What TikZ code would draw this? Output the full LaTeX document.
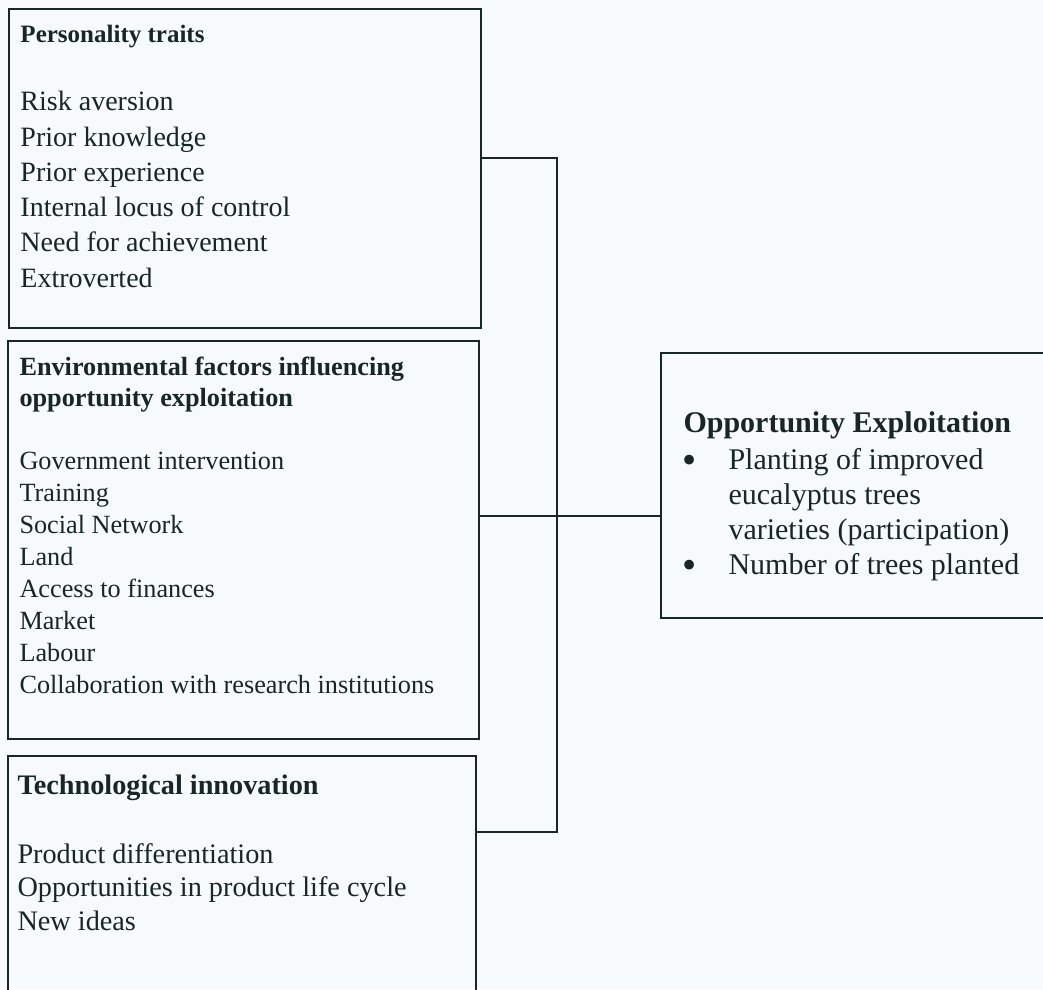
\documentclass[tikz,border=0pt]{standalone}
\usepackage{fontspec}
\setmainfont{Liberation Serif}

\newlength{\px}
\setlength{\px}{0.4pt}
\newlength{\bulletw}
\setlength{\bulletw}{45\px}
\newcommand{\outcomebullet}{\makebox[\bulletw][l]{\hspace*{-0.6pt}\raisebox{-1.6pt}{\scalebox{1.35}{\textbullet}}}}

\definecolor{inkcolor}{rgb}{0.10,0.15,0.15}
\definecolor{papercolor}{rgb}{0.965,0.980,0.985}

\tikzset{
  factorbox/.style={draw=inkcolor, line width=1.8\px, anchor=north west, inner sep=0pt},
  boxtext/.style={anchor=base west, inner sep=0pt, align=left, text=inkcolor},
  link/.style={draw=inkcolor, line width=1.5\px},
}

\begin{document}
\begin{tikzpicture}
\pgftransformxscale{1.000000}
\pgftransformyscale{-1.000000}
\useasboundingbox (0\px,0\px) rectangle (1043\px,989\px);
\clip (0\px,0\px) rectangle (1043\px,989\px);
\fill[papercolor] (0\px,0\px) rectangle (1043\px,989\px);
% factor boxes
\node[factorbox, minimum width=472\px, minimum height=319\px] (traitsbox) at (8\px,8\px) {};
\node[factorbox, minimum width=471\px, minimum height=398\px] (envbox) at (7\px,340\px) {};
\node[factorbox, minimum width=468\px, minimum height=260\px] (techbox) at (7\px,755\px) {};
\node[factorbox, minimum width=400\px, minimum height=265\px] (outcomebox) at (660\px,352\px) {};
% box texts (placed by the baseline of their last line)
\node[boxtext, font=\fontsize{11.2pt}{14.1pt}\selectfont] (traitstext) at (20\px,287\px)
  {{\bfseries\fontsize{10pt}{14.1pt}\selectfont Personality traits}\\[13.1pt]
   Risk aversion\\ Prior knowledge\\ Prior experience\\
   Internal locus of control\\ Need for achievement\\ Extroverted};
\node[boxtext, font=\fontsize{10.5pt}{12.4pt}\selectfont] (envtext) at (19\px,693\px)
  {{\bfseries Environmental factors influencing}\\
   {\bfseries opportunity exploitation}\\[12.8pt]
   Government intervention\\[0.35pt] Training\\[0.35pt] Social Network\\[0.35pt] Land\\[0.35pt]
   Access to finances\\[0.35pt] Market\\[0.35pt] Labour\\[0.35pt]
   Collaboration with research institutions};
\node[boxtext, font=\fontsize{11.3pt}{13.4pt}\selectfont] (techtext) at (17\px,930\px)
  {{\bfseries Technological innovation}\\[14.2pt]
   Product differentiation\\ Opportunities in product life cycle\\ New ideas};
\node[boxtext, font=\fontsize{12pt}{14pt}\selectfont] (outcometext) at (683\px,574\px)
  {{\bfseries Opportunity Exploitation}\\[0.8pt]
   \outcomebullet Planting of improved\\
   \hspace*{\bulletw}eucalyptus trees\\
   \hspace*{\bulletw}varieties (participation)\\
   \outcomebullet Number of trees planted};
% connectors
\coordinate (topjoint) at (557\px,158\px);
\coordinate (midjoint) at (557\px,516\px);
\coordinate (bottomjoint) at (557\px,832\px);
\draw[link] (traitsbox.east |- topjoint) -- (topjoint) -- (bottomjoint) -- (techbox.east |- bottomjoint);
\draw[link] (envbox.east |- midjoint) -- (outcomebox.west |- midjoint);
\end{tikzpicture}
\end{document}
